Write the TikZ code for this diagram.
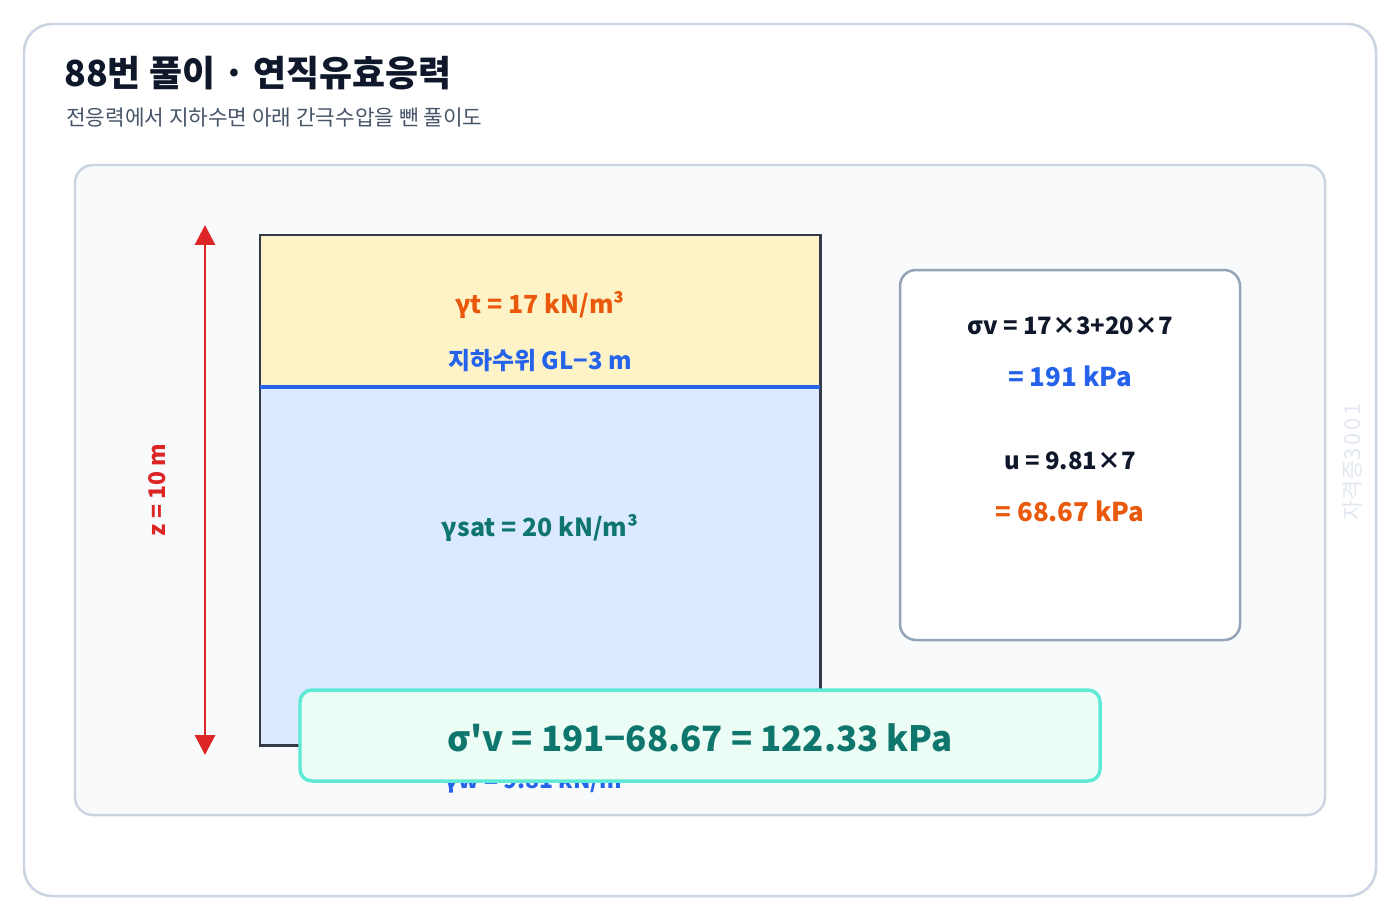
\documentclass[tikz,border=0pt]{standalone}
\usepackage{fontspec}
\setmainfont{Noto Sans CJK KR}[Ligatures=TeXOff]
\usetikzlibrary{arrows.meta}
\definecolor{frame}{HTML}{CBD5E1}
\definecolor{panel}{HTML}{F8FAFC}
\definecolor{ink}{HTML}{0F172A}
\definecolor{sub}{HTML}{475569}
\definecolor{topsoil}{HTML}{FEF3C7}
\definecolor{satsoil}{HTML}{DBEAFE}
\definecolor{wblue}{HTML}{2563EB}
\definecolor{orng}{HTML}{EA580C}
\definecolor{teal}{HTML}{0F766E}
\definecolor{redc}{HTML}{DC2626}
\definecolor{boxline}{HTML}{94A3B8}
\definecolor{resfill}{HTML}{ECFDF5}
\definecolor{resline}{HTML}{5EEAD4}
\definecolor{wm}{HTML}{E2E8F0}
\newcommand{\fsz}[1]{\fontsize{#1}{#1}\selectfont}
\tikzset{
  lbl/.style={inner sep=0pt, anchor=center},
}
\begin{document}
\begin{tikzpicture}[x=1bp,y=-1bp]
\useasboundingbox (0,0) rectangle (1400,920);
\fill[white] (0,0) rectangle (1400,920);
% outer card
\draw[frame, line width=2.5, rounded corners=28] (24,24) rectangle (1376,896);
\node[lbl, anchor=base west, text=ink, font=\fsz{36}\bfseries] (title) at (64,86) {88번 풀이 · 연직유효응력};
\node[lbl, anchor=base west, text=sub, font=\fsz{21.4}] (subtitle) at (66,125) {전응력에서 지하수면 아래 간극수압을 뺀 풀이도};
% inner panel
\draw[frame, fill=panel, line width=2.5, rounded corners=18] (75,165) rectangle (1325,815);
% soil column
\fill[topsoil] (260,235) rectangle (820,387);
\fill[satsoil] (260,387) rectangle (820,745);
\draw[ink!85, line width=3] (260,235) rectangle (820,745);
\draw[wblue, line width=4.5] (260,387) -- (820,387);
\node[lbl, text=orng, font=\fsz{25}\bfseries] (gt) at (540,305) {γt = 17 kN/m³};
\node[lbl, text=wblue, font=\fsz{24}\bfseries] (gwl) at (540,361) {지하수위 GL−3 m};
\node[lbl, text=teal, font=\fsz{25}\bfseries] (gsat) at (540,528) {γsat = 20 kN/m³};
\node[lbl, text=wblue, font=\fsz{23}\bfseries] (gw) at (538,781) {γw = 9.81 kN/m³};
% depth arrow
\coordinate (atop) at (205,225);
\coordinate (abot) at (205,755);
\draw[redc, line width=3, {Triangle[length=20,width=20]}-{Triangle[length=20,width=20]}] (atop) -- (abot);
\node[lbl, text=redc, font=\fsz{23}\bfseries, rotate=90] (zlbl) at (157,490) {z = 10 m};
% calc box
\draw[boxline, fill=white, line width=2.5, rounded corners=16] (900,270) rectangle (1240,640);
\node[lbl, text=ink, font=\fsz{24}\bfseries] (sv) at (1070,326) {σv = 17×3+20×7};
\node[lbl, text=wblue, font=\fsz{26}\bfseries] (svr) at (1070,376) {= 191 kPa};
\node[lbl, text=ink, font=\fsz{24}\bfseries] (u) at (1070,461) {u = 9.81×7};
\node[lbl, text=orng, font=\fsz{26}\bfseries] (ur) at (1070,511) {= 68.67 kPa};
% result box
\draw[resline, fill=resfill, line width=3.5, rounded corners=12] (300,690) rectangle (1100,781);
\node[lbl, text=teal, font=\fsz{35}\bfseries] (res) at (700,738) {σ'v = 191−68.67 = 122.33 kPa};
% watermark
\node[lbl, text=wm, font=\fsz{22}, rotate=90] (wmk) at (1352,462) {자격증\addfontfeature{LetterSpace=12}3001};
\end{tikzpicture}
\end{document}
